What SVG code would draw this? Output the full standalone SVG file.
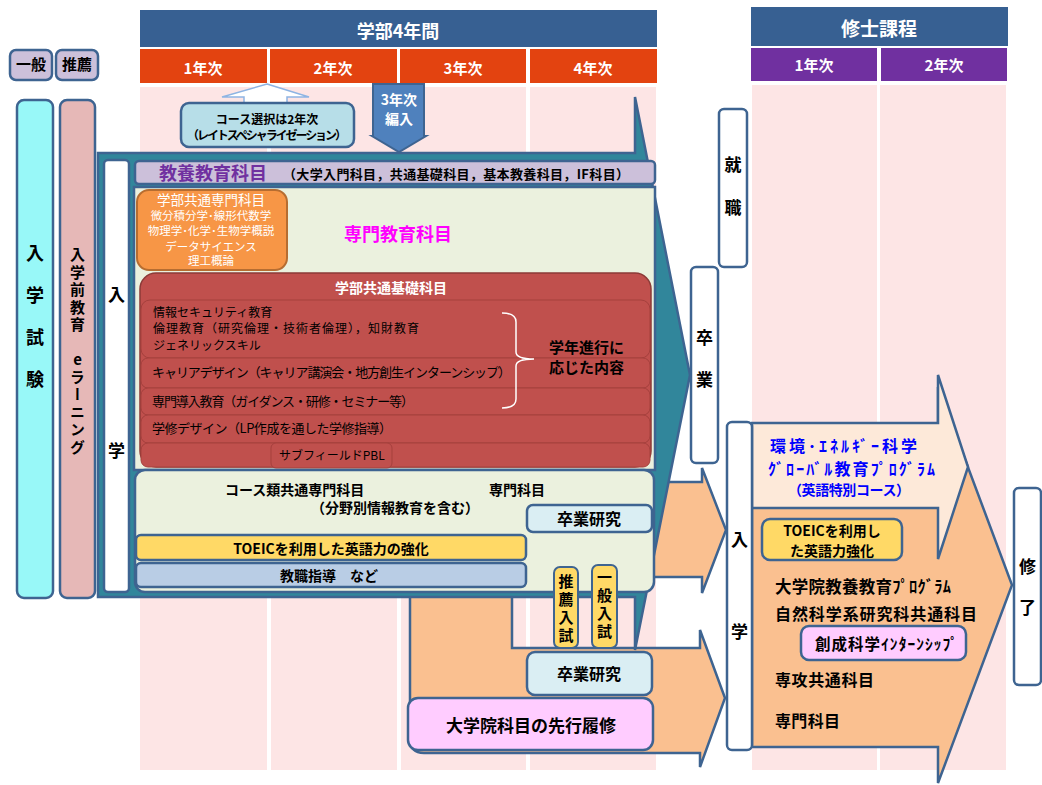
<svg xmlns="http://www.w3.org/2000/svg" width="1042" height="785" viewBox="0 0 1042 785">
<style>
text{font-family:"Noto Sans CJK JP","Noto Sans",sans-serif;font-weight:bold;fill:#000}
.hdr{fill:#376092}
.yr{fill:#e34310}
.ms{fill:#7030a0}
.col{fill:#fde5e5}
.wt{fill:#fff}
.box{stroke:#3e6491;stroke-width:2.5}
.thin{stroke:#3e6491;stroke-width:2}
.vt{writing-mode:vertical-rl;text-orientation:upright}
.row{fill:#c0504d;stroke:#a5403d;stroke-width:1}
.n{font-weight:normal}
.c{text-anchor:middle}
.blue{fill:#0000ff}
</style>
<rect x="0" y="0" width="1042" height="785" fill="#fff"/>
<g id="header">
<rect class="hdr" x="140" y="10" width="517" height="37"/>
<text class="wt c" x="398" y="38" font-size="18">学部4年間</text>
<rect class="yr" x="140" y="49" width="127" height="34"/>
<rect class="yr" x="270" y="49" width="127" height="34"/>
<rect class="yr" x="400" y="49" width="126" height="34"/>
<rect class="yr" x="530" y="49" width="127" height="34"/>
<text class="wt c" x="203" y="74" font-size="15">1年次</text>
<text class="wt c" x="333" y="74" font-size="15">2年次</text>
<text class="wt c" x="463" y="74" font-size="15">3年次</text>
<text class="wt c" x="593" y="74" font-size="15">4年次</text>
<rect class="col" x="140" y="87" width="127" height="683"/>
<rect class="col" x="271" y="87" width="126" height="683"/>
<rect class="col" x="401" y="87" width="125" height="683"/>
<rect class="col" x="530" y="87" width="126" height="683"/>
<rect class="hdr" x="751" y="7" width="257" height="39"/>
<text class="wt c" x="879" y="36" font-size="19">修士課程</text>
<rect class="ms" x="751" y="48" width="126" height="33"/>
<rect class="ms" x="881" y="48" width="126" height="33"/>
<text class="wt c" x="814" y="71" font-size="15">1年次</text>
<text class="wt c" x="944" y="71" font-size="15">2年次</text>
<rect class="col" x="752" y="85" width="125" height="685"/>
<rect class="col" x="880" y="85" width="126" height="685"/>
</g>
<g id="left">
<g id="ippan"><rect class="box" x="10" y="50" width="42" height="30" rx="6" fill="#ccc0da"/><text class="c" x="31" y="70" font-size="15">一般</text></g>
<g id="suisen"><rect class="box" x="56" y="50" width="42" height="30" rx="6" fill="#ccc0da"/><text class="c" x="77" y="70" font-size="15">推薦</text></g>
<g id="nyushi"><rect class="box" x="17" y="100" width="36" height="498" rx="7" fill="#98f8f8"/><text class="vt" x="35" y="244" font-size="18" letter-spacing="24">入学試験</text></g>
<g id="elearning"><rect class="box" x="60" y="100" width="35" height="498" rx="7" fill="#e6b8b7"/><text class="vt" x="77.5" y="247" font-size="15" letter-spacing="2.5">入学前教育 eラーニング</text></g>
</g>
<g id="connectors">
<path id="arrow-grad-lower" class="box" fill="#fac090" d="M410,560 L512,560 L512,648 L700,648 L700,630 L725,698 L700,767 L700,753 L424,753 Q410,753 410,739 Z"/>
<path id="arrow-grad-upper" class="box" fill="#fac090" d="M600,482 L702,482 L702,468 L726,530 L702,593 L702,577 L600,577 Z"/>
<path id="arrow-undergrad" class="box" fill="#31869b" d="M98,153 L635,153 L635,97 L690,375 L635,650 L635,597 L98,597 Z"/>
<path id="arrow-master" class="box" fill="#fac090" d="M752,440 L938,440 L938,387 L1012,585 L938,783 L938,747 L752,747 Z"/>
<path id="arrow-global" class="box" fill="#fde9d9" d="M752,423 L938,423 L938,375 L968,467 L938,559 L938,508 L752,508 Z"/>
</g>
<g id="ug-entry"><rect class="box" x="104" y="160" width="25" height="432" rx="4" fill="#fff"/><text class="vt" x="116.5" y="286" font-size="17" letter-spacing="139">入学</text></g>
<g id="kyoyo"><rect class="box" x="135" y="161" width="520" height="23" rx="4" fill="#ccc0da"/>
<text x="159" y="180" font-size="18" style="fill:#7030a0">教養教育科目</text>
<text x="283" y="179" font-size="13" textLength="346">（大学入門科目，共通基礎科目，基本教養科目，IF科目）</text></g>
<g id="senmon"><rect class="box" x="134" y="187" width="521" height="283" fill="#ebf1de"/>
<text class="c" x="398" y="241" font-size="18" style="fill:#ff00ff">専門教育科目</text></g>
<g id="gakubu-senmon"><rect x="137" y="190" width="150" height="80" rx="12" fill="#f79646" stroke="#b66d31" stroke-width="2"/>
<text class="c n wt" x="211" y="205" font-size="13.5">学部共通専門科目</text>
<text class="c n wt" x="211" y="220" font-size="11.5">微分積分学･線形代数学</text>
<text class="c n wt" x="211" y="235" font-size="11.5">物理学･化学･生物学概説</text>
<text class="c n wt" x="211" y="251" font-size="11.5">データサイエンス</text>
<text class="c n wt" x="211" y="265" font-size="11.5">理工概論</text></g>
<g id="kiso"><rect x="140" y="273" width="511" height="194" rx="16" fill="#c0504d" stroke="#8c3a37" stroke-width="1.5"/>
<text class="c wt" x="391" y="293" font-size="14">学部共通基礎科目</text>
<rect class="row" x="141" y="300" width="509" height="58" rx="9"/>
<rect class="row" x="141" y="358" width="509" height="30" rx="7"/>
<rect class="row" x="141" y="388" width="509" height="27" rx="7"/>
<rect class="row" x="141" y="415" width="509" height="28" rx="7"/>
<rect class="row" x="141" y="443" width="509" height="24" rx="7"/>
<text class="n" x="153" y="317" font-size="12">情報セキュリティ教育</text>
<text class="n" x="153" y="333" font-size="12" textLength="266">倫理教育（研究倫理・技術者倫理），知財教育</text>
<text class="n" x="153" y="350" font-size="12">ジェネリックスキル</text>
<text class="n" x="152" y="377" font-size="13" textLength="359">キャリアデザイン（キャリア講演会・地方創生インターンシップ）</text>
<text class="n" x="152" y="406" font-size="13" textLength="262">専門導入教育（ガイダンス・研修・セミナー等）</text>
<text class="n" x="152" y="433" font-size="13" textLength="240">学修デザイン（LP作成を通した学修指導）</text>
<rect class="row" x="271" y="443" width="121" height="25" rx="5"/>
<text class="n" x="279" y="460" font-size="12">サブフィールドPBL</text>
<path d="M502,313 Q516,313 516,322 L516,352 Q516,359 534,359 Q516,359 516,366 L516,399 Q516,408 502,408" fill="none" stroke="#fff" stroke-width="1.5"/>
<text x="549" y="353" font-size="15">学年進行に</text>
<text x="549" y="373" font-size="15">応じた内容</text></g>
<g id="course"><rect class="box" x="135" y="470" width="519" height="122" rx="10" fill="#ebf1de"/>
<text x="225" y="495" font-size="14">コース類共通専門科目</text>
<text x="489" y="495" font-size="14">専門科目</text>
<text x="311" y="513" font-size="14">（分野別情報教育を含む）</text></g>
<g id="sotsuken1"><rect class="box" x="527" y="505" width="125" height="27" rx="6" fill="#daeef3"/><text class="c" x="589" y="525" font-size="16">卒業研究</text></g>
<g id="toeic1"><rect class="box" x="136" y="535" width="390" height="25" rx="5" fill="#ffd966"/><text class="c" x="331" y="554" font-size="14">TOEICを利用した英語力の強化</text></g>
<g id="kyoshoku"><rect class="box" x="136" y="563" width="390" height="24" rx="5" fill="#b9cde5"/><text class="c" x="329" y="581" font-size="14">教職指導　など</text></g>
<g id="suisen-nyushi"><rect class="thin" x="554" y="567" width="24" height="81" rx="6" fill="#ffd966"/><text class="vt" x="566" y="574" font-size="15" letter-spacing="3">推薦入試</text></g>
<g id="ippan-nyushi"><rect class="thin" x="592" y="565" width="25" height="83" rx="6" fill="#ffd966"/><text class="vt" x="604.5" y="570" font-size="15" letter-spacing="3">一般入試</text></g>
<g id="sotsuken2"><rect class="box" x="527" y="652" width="125" height="43" rx="8" fill="#daeef3"/><text class="c" x="589" y="680" font-size="16">卒業研究</text></g>
<g id="senko"><rect class="box" x="408" y="698" width="245" height="52" rx="10" fill="#ffccff"/><text class="c" x="531" y="732" font-size="17">大学院科目の先行履修</text></g>
<g id="course-select">
<path d="M267,84 L309,97 L287,97 L287,104 L244,104 L244,97 L222,97 Z" fill="#fff" stroke="#8eb4e3" stroke-width="1.5"/>
<rect class="box" x="181" y="103" width="173" height="44" rx="8" fill="#b7dee8"/>
<text class="c" x="267" y="124" font-size="12">コース選択は2年次</text>
<text class="c" x="267" y="140" font-size="12" textLength="160">（レイトスペシャライゼーション）</text></g>
<g id="hennyu">
<path d="M373,84 L424,84 L424,136 L426,136 L399,152 L372,136 L373,136 Z" fill="#4f81bd" stroke="#3e6491" stroke-width="2"/>
<text class="c wt" x="399" y="105" font-size="14">3年次</text>
<text class="c wt" x="399" y="124" font-size="14">編入</text></g>
<g id="shushoku"><rect class="box" x="719" y="109" width="28" height="158" rx="5" fill="#fff"/><text class="vt" x="733" y="156.5" font-size="17" letter-spacing="26">就職</text></g>
<g id="sotsugyo"><rect class="box" x="691" y="267" width="27" height="196" rx="5" fill="#fff"/><text class="vt" x="704.5" y="329.5" font-size="17" letter-spacing="25">卒業</text></g>
<g id="ms-entry"><rect class="box" x="727" y="422" width="25" height="328" rx="5" fill="#fff"/><text class="vt" x="739.5" y="531.5" font-size="17" letter-spacing="75">入学</text></g>
<g id="shuryo"><rect class="box" x="1014" y="488" width="27" height="197" rx="5" fill="#fff"/><text class="vt" x="1027.5" y="558.5" font-size="17" letter-spacing="24">修了</text></g>
<g id="global">
<text class="blue" x="770" y="452" font-size="16" textLength="147">環境･ｴﾈﾙｷﾞｰ科学</text>
<text class="blue" x="768" y="475" font-size="16" textLength="167">ｸﾞﾛｰﾊﾞﾙ教育ﾌﾟﾛｸﾞﾗﾑ</text>
<text class="blue" x="788" y="495" font-size="14" textLength="122">（英語特別コース）</text></g>
<g id="toeic2"><rect class="box" x="762" y="519" width="140" height="41" rx="8" fill="#ffd966"/>
<text class="c" x="832" y="536" font-size="14">TOEICを利用し</text>
<text class="c" x="832" y="556" font-size="14">た英語力強化</text></g>
<g id="ms-courses">
<text x="775" y="593" font-size="16.5" textLength="176">大学院教養教育ﾌﾟﾛｸﾞﾗﾑ</text>
<text x="775" y="620" font-size="16" textLength="202">自然科学系研究科共通科目</text>
<text x="775" y="686" font-size="16" textLength="99">専攻共通科目</text>
<text x="775" y="727" font-size="16" textLength="65">専門科目</text></g>
<g id="sosei"><rect class="box" x="801" y="626" width="165" height="34" rx="8" fill="#ffccff"/><text x="815" y="650" font-size="15.5" textLength="143">創成科学ｲﾝﾀｰﾝｼｯﾌﾟ</text></g>
</svg>
